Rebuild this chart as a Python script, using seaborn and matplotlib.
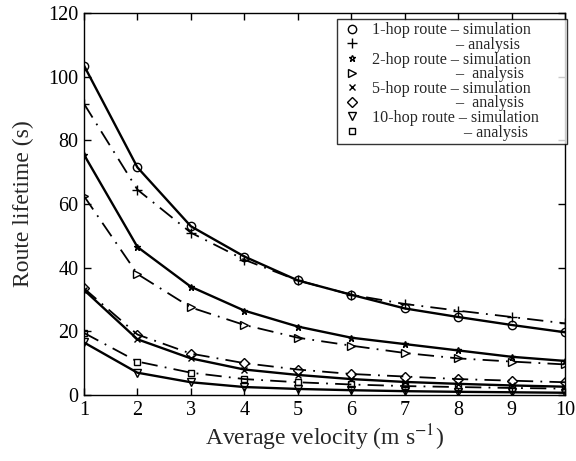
import matplotlib
matplotlib.use("Agg")
import matplotlib.pyplot as plt
from matplotlib.lines import Line2D
import seaborn as sns
import pandas as pd

velocity = [1, 2, 3, 4, 5, 6, 7, 8, 9, 10]

hop1_sim = [103.5, 71.5, 53, 43.5, 36, 31.5, 27.2, 24.5, 22, 19.7]
hop1_ana = [91.5, 64.5, 51, 42.5, 36, 31.5, 28.6, 26.5, 24.5, 22.5]
hop2_sim = [75.5, 46.5, 34, 26.5, 21.5, 18, 16, 14, 12, 10.7]
hop2_ana = [62.5, 38, 27.5, 22, 18, 15.5, 13.2, 11.5, 10.5, 9.6]
hop5_sim = [33, 17.5, 11.5, 8, 6.3, 5, 4.1, 3.5, 3, 2.6]
hop5_ana = [33.5, 19, 13, 10, 8, 6.6, 5.8, 5, 4.5, 4]
hop10_sim = [16.5, 7, 4, 2.5, 1.9, 1.5, 1.2, 1.0, 0.85, 0.7]
hop10_ana = [19.5, 10.5, 7, 5, 4, 3.3, 2.8, 2.5, 2.2, 2]

labels = ["1-hop route \u2013 simulation",
          "                     \u2013 analysis",
          "2-hop route \u2013 simulation",
          "                     \u2013  analysis",
          "5-hop route \u2013 simulation",
          "                     \u2013  analysis",
          "10-hop route \u2013 simulation",
          "                       \u2013 analysis"]

series = [hop1_sim, hop1_ana, hop2_sim, hop2_ana, hop5_sim, hop5_ana, hop10_sim, hop10_ana]
markers = ["o", "+", "*", ">", "x", "D", "v", "s"]
msizes = [6, 7, 5, 6, 5, 5, 6, 5]
styles = ["solid", (0, (9, 4, 1, 4))] * 4

sns.set_theme(style="ticks")
plt.rcParams["font.family"] = ["Liberation Serif", "DejaVu Serif"]
plt.rcParams["mathtext.fontset"] = "stix"

fig = plt.figure(figsize=(5.76, 4.61), dpi=100)
ax = fig.add_axes([0.1458, 0.1432, 0.835, 0.8286])

for i, (vals, lab) in enumerate(zip(series, labels)):
    df = pd.DataFrame({"v": velocity, "t": vals})
    sns.lineplot(data=df, x="v", y="t", ax=ax, color="black",
                 linewidth=1.7 if i % 2 == 0 else 1.3,
                 linestyle=styles[i], marker=markers[i], markersize=msizes[i],
                 markerfacecolor="none", markeredgecolor="black",
                 markeredgewidth=1.0)

ax.set_xlim(1, 10)
ax.set_ylim(0, 120)
ax.set_xticks(range(1, 11))
ax.set_yticks(range(0, 121, 20))
ax.tick_params(direction="in", top=True, right=True, labelsize=14.5, length=5,
               width=1, colors="black", pad=4)
for s in ax.spines.values():
    s.set_linewidth(1.0)
    s.set_color("black")
ax.set_xlabel("Average velocity (m s$^{-1}$)", fontsize=17, labelpad=2)
ax.set_ylabel("Route lifetime (s)", fontsize=17, labelpad=10)

handles = [Line2D([], [], linestyle="none", marker=m, markersize=ms,
                  markerfacecolor="none", markeredgecolor="black",
                  markeredgewidth=1.0, color="black")
           for m, ms in zip(markers, msizes)]
leg = ax.legend(handles, labels, loc="upper left",
                bbox_to_anchor=(0.526, 0.0, 0.478, 0.984), mode="expand",
                fontsize=11.6, frameon=True, fancybox=False, handlelength=1.5,
                handletextpad=0.5, labelspacing=-0.085, borderpad=0.2,
                borderaxespad=0.0)
leg.get_frame().set_edgecolor("black")
leg.get_frame().set_linewidth(1.0)

fig.savefig("out.png", dpi=100)
